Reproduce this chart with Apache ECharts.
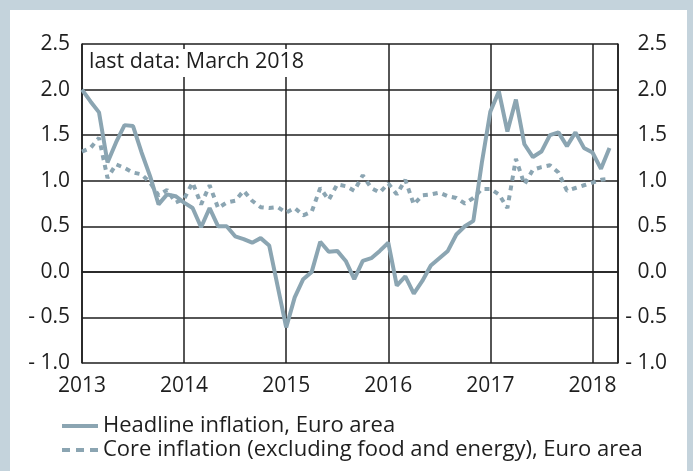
<!DOCTYPE html>
<html>
<head>
<meta charset="utf-8">
<script src="https://cdn.jsdelivr.net/npm/echarts@6/dist/echarts.min.js"></script>
<style>
  body { margin: 0; background: #c4d3dc; }
  #panel { position: absolute; left: 10px; top: 10px; width: 677px; height: 461px; background: #fff; }
  #chart { position: absolute; left: 0; top: 0; width: 693px; height: 471px; }
</style>
</head>
<body>
<div id="panel"></div>
<div id="chart"></div>
<script>
// monthly, Jan 2013 .. Mar 2018
const yearLabels = ['2013', '2014', '2015', '2016', '2017', '2018'];
const yLabels = ['- 1.0', '- 0.5', '0.0', '0.5', '1.0', '1.5', '2.0', '2.5'];

const headline = [
  2.0, 1.87, 1.75, 1.2, 1.42, 1.61, 1.6, 1.31, 1.05, 0.74, 0.85, 0.83,
  0.76, 0.7, 0.49, 0.7, 0.5, 0.5, 0.39, 0.36, 0.32, 0.37, 0.29, -0.16,
  -0.61, -0.28, -0.08, 0.0, 0.33, 0.22, 0.23, 0.12, -0.08, 0.12, 0.15, 0.23,
  0.32, -0.15, -0.05, -0.24, -0.1, 0.07, 0.15, 0.23, 0.41, 0.5, 0.56, 1.2,
  1.76, 1.98, 1.54, 1.89, 1.4, 1.26, 1.32, 1.5, 1.53, 1.38, 1.53, 1.36,
  1.31, 1.13, 1.36
];

const core = [
  1.32, 1.36, 1.47, 1.03, 1.18, 1.14, 1.09, 1.07, 0.98, 0.84, 0.9, 0.76,
  0.8, 0.98, 0.74, 0.95, 0.7, 0.76, 0.78, 0.89, 0.78, 0.71, 0.7, 0.71,
  0.65, 0.7, 0.62, 0.66, 0.92, 0.79, 0.96, 0.94, 0.89, 1.06, 0.92, 0.87,
  0.97, 0.85, 1.01, 0.74, 0.84, 0.85, 0.87, 0.83, 0.81, 0.75, 0.81, 0.91,
  0.91, 0.85, 0.7, 1.24, 0.96, 1.12, 1.15, 1.17, 1.09, 0.89, 0.92, 0.95,
  0.98, 1.01, 1.02
];

const seriesNames = ['Headline inflation, Euro area', 'Core inflation (excluding food and energy), Euro area'];
const lineColor = '#8ba5b2';
const ink = '#1e1e1e';
const font = 'Open Sans';

// legend icons: a solid bar and three short dashes
const solidIcon = 'path://M0,0h36v4h-36z';
const dashIcon = 'path://M0,0h8v4h-8zM14,0h8v4h-8zM28,0h8v4h-8z';

const chart = echarts.init(document.getElementById('chart'));

const yLabel = v => yLabels[Math.round((v + 1) / 0.5)] || '';

// one legend per row so nothing wraps
const legendRow = (name, icon, top) => ({
  left: 62,
  top: top,
  padding: 0,
  itemWidth: 36,
  itemHeight: 4,
  data: [{ name: name, icon: icon }],
  textStyle: { fontFamily: font, fontSize: 22, lineHeight: 24, color: ink }
});

const option = {
  animation: false,
  textStyle: { fontFamily: font },
  title: {
    text: 'last data: March 2018',
    left: 84,
    top: 49,
    padding: [2, 5, 4, 5],
    backgroundColor: '#fff',
    textStyle: { fontFamily: font, fontSize: 21.5, fontWeight: 'normal', color: ink }
  },
  grid: { left: 82, right: 75, top: 44, bottom: 108 },
  legend: [
    legendRow(seriesNames[0], solidIcon, 414),
    legendRow(seriesNames[1], dashIcon, 438)
  ],
  xAxis: {
    type: 'value',
    min: 0,
    max: 63,
    interval: 12,
    axisLine: { show: true, lineStyle: { color: ink, width: 1.5 } },
    axisTick: { show: false },
    splitLine: { show: true, lineStyle: { color: ink, width: 1.5 } },
    axisLabel: {
      margin: 13,
      fontFamily: font,
      fontSize: 21,
      color: ink,
      formatter: v => (v % 12 === 0 ? yearLabels[v / 12] : '')
    }
  },
  yAxis: [
    {
      type: 'value',
      min: -1,
      max: 2.5,
      interval: 0.5,
      axisLine: { show: true, lineStyle: { color: ink, width: 1.5 } },
      axisTick: { show: false },
      splitLine: { show: true, lineStyle: { color: ink, width: 1.5 } },
      axisLabel: { margin: 12, fontFamily: font, fontSize: 21, color: ink, formatter: yLabel }
    },
    {
      type: 'value',
      position: 'right',
      min: -1,
      max: 2.5,
      interval: 0.5,
      axisLine: { show: true, lineStyle: { color: ink, width: 1.5 } },
      axisTick: { show: false },
      splitLine: { show: false },
      axisLabel: { margin: 49, align: 'right', fontFamily: font, fontSize: 21, color: ink, formatter: yLabel }
    }
  ],
  series: [
    {
      name: seriesNames[0],
      type: 'line',
      symbol: 'none',
      data: headline.map((v, i) => [i, v]),
      color: lineColor,
      lineStyle: { width: 4, color: lineColor }
    },
    {
      name: seriesNames[1],
      type: 'line',
      symbol: 'none',
      data: core.map((v, i) => [i, v]),
      color: lineColor,
      lineStyle: { width: 4, color: lineColor, type: [5, 5] }
    }
  ]
};

chart.setOption(option);
</script>
</body>
</html>
